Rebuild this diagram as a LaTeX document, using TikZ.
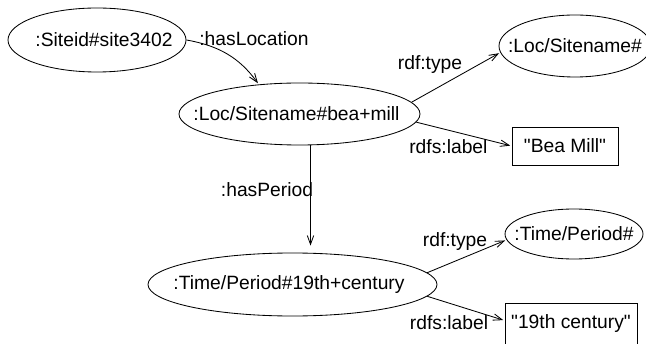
\documentclass[tikz,border=0pt]{standalone}
\usepackage{fontspec}
\setmainfont{Liberation Sans}
\usetikzlibrary{shapes.geometric, arrows.meta}

\begin{document}
\begin{tikzpicture}[every node/.style={font=\fontsize{13.7}{16}\selectfont}]
    \tikzstyle{oval} = [ellipse, draw=black, line width=0.6pt, inner sep=0pt]
    \tikzstyle{literal} = [rectangle, draw=black, line width=0.6pt, inner sep=0pt]
    \tikzstyle{arrow} = [-{Straight Barb[length=0.22cm, width=0.16cm]}, line width=0.6pt, shorten >=1pt]
    \tikzstyle{lbl} = [inner sep=0pt]
    \useasboundingbox (0, 0) rectangle (16.15, 8.575);

    % resources
    \node[oval, minimum width=4.45cm, minimum height=1.6cm] (site) at (2.425, 7.575) {\makebox[0pt]{\kern0.35cm:Siteid\#site3402}};
    \node[oval, minimum width=6.025cm, minimum height=1.55cm] (loc) at (7.4875, 5.725) {\makebox[0pt]{\kern-0.15cm:Loc/Sitename\#bea+mill}};
    \node[oval, minimum width=3.8cm, minimum height=1.55cm] (loctype) at (14.375, 7.425) {\makebox[0pt]{:Loc/Sitename\#}};
    \node[literal, minimum width=2.65cm, minimum height=0.95cm] (locname) at (14.125, 4.925) {\textquotedbl Bea Mill\textquotedbl};
    \node[oval, minimum width=7.225cm, minimum height=1.575cm] (period) at (7.3125, 1.4625) {\makebox[0pt]{\kern-0.175cm:Time/Period\#19th+century}};
    \node[oval, minimum width=3.45cm, minimum height=1.25cm] (pertype) at (14.35, 2.725) {\makebox[0pt]{:Time/Period\#}};
    \node[literal, minimum width=3.3cm, minimum height=1.05cm] (pername) at (14.275, 0.475) {\textquotedbl 19th century\textquotedbl};

    % properties
    \draw[arrow] (site.east) to[out=-10, in=126] (loc.144);
    \draw[arrow] (loc.6) -- (loctype.185);
    \draw[arrow] (loc.356) -- (locname.west);
    \draw[arrow, shorten >=0.175cm] ([xshift=0.275cm]loc.south) -- ([xshift=0.275cm]loc.south |- period.north);
    \draw[arrow] (period.5) -- (pertype.185);
    \draw[arrow] (period.355) -- (pername.177);

    \node[lbl] (hasloc) at (6.35, 7.6) {:hasLocation};
    \node[lbl] (loctypelbl) at (10.75, 6.95) {rdf:type};
    \node[lbl] (locnamelbl) at (11.21, 4.91) {rdfs:label};
    \node[lbl] (hasper) at (6.675, 3.825) {:hasPeriod};
    \node[lbl] (pertypelbl) at (11.375, 2.525) {rdf:type};
    \node[lbl] (pernamelbl) at (11.225, 0.5) {rdfs:label};
\end{tikzpicture}
\end{document}
